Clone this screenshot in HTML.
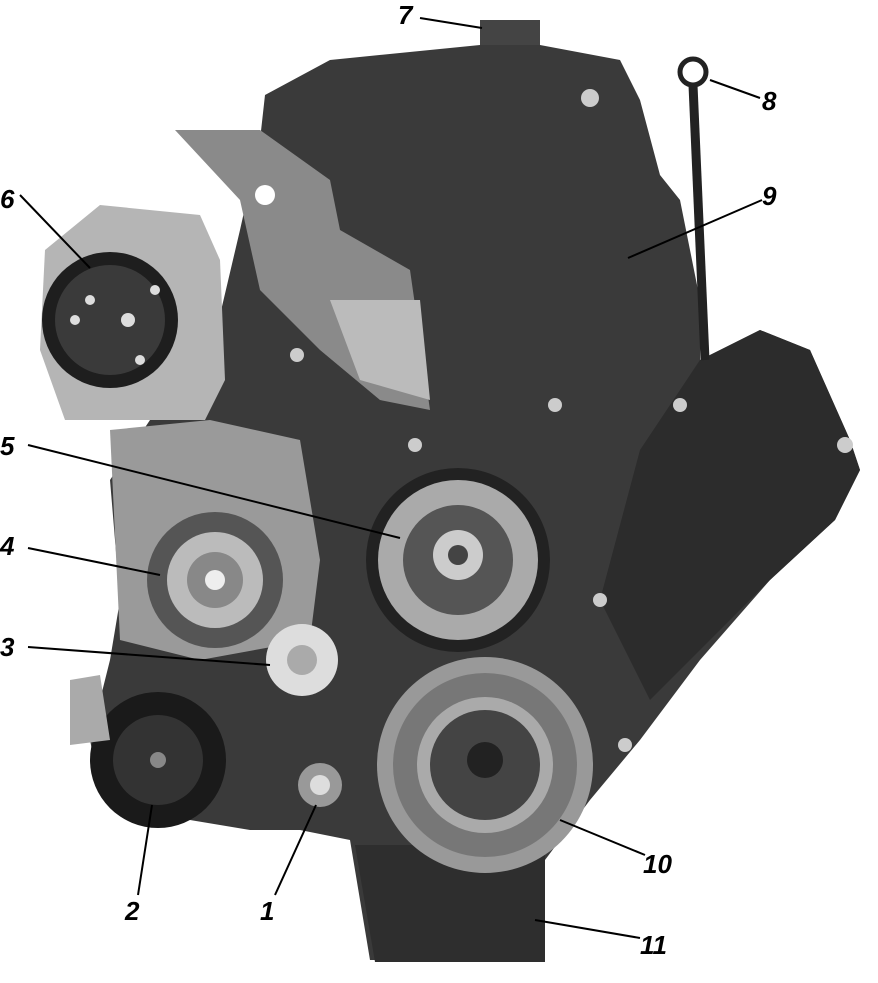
<!DOCTYPE html>
<html><head><meta charset="utf-8"><style>
html,body{margin:0;padding:0;background:#fff}
svg{display:block}
text{font-family:"Liberation Sans",sans-serif;font-weight:bold;font-style:italic;font-size:26px;fill:#000}
</style></head><body>
<svg width="878" height="983" viewBox="0 0 878 983" xmlns="http://www.w3.org/2000/svg">
<!-- main dark body -->
<path d="M265,95 L330,60 L480,45 L540,45 L620,60 L640,100 L660,175 L680,200 L700,300 L700,360 L760,330 L810,350 L850,440 L860,470 L835,520 L770,580 L700,660 L640,740 L590,800 L545,860 L545,960 L370,960 L350,840 L300,830 L250,830 L160,815 L100,790 L90,740 L110,660 L120,600 L110,480 L150,420 L200,400 L240,230 L260,140 Z" fill="#3a3a3a"/>
<path d="M480,45 L540,45 L540,20 L480,20 Z" fill="#444"/>
<path d="M700,360 L760,330 L810,350 L850,440 L860,470 L835,520 L770,580 L650,700 L600,600 L640,450 Z" fill="#2c2c2c"/>
<!-- lighter brackets -->
<path d="M175,130 L260,130 L330,180 L340,230 L410,270 L420,340 L430,410 L380,400 L320,350 L260,290 L240,200 Z" fill="#8a8a8a"/>
<circle cx="265" cy="195" r="10" fill="#fff"/>
<path d="M330,300 L420,300 L430,400 L360,380 Z" fill="#bbb"/>
<!-- compressor -->
<path d="M45,250 L100,205 L200,215 L220,260 L225,380 L205,420 L65,420 L40,350 Z" fill="#b5b5b5"/>
<circle cx="110" cy="320" r="68" fill="#1e1e1e"/>
<circle cx="110" cy="320" r="55" fill="#3a3a3a"/>
<circle cx="128" cy="320" r="7" fill="#ddd"/><circle cx="90" cy="300" r="5" fill="#ddd"/><circle cx="155" cy="290" r="5" fill="#ddd"/><circle cx="140" cy="360" r="5" fill="#ddd"/><circle cx="75" cy="320" r="5" fill="#ddd"/>
<!-- alternator body -->
<path d="M110,430 L210,420 L300,440 L320,560 L310,640 L200,660 L120,640 Z" fill="#9a9a9a"/>
<circle cx="215" cy="580" r="68" fill="#555"/>
<circle cx="215" cy="580" r="48" fill="#bbb"/>
<circle cx="215" cy="580" r="28" fill="#888"/>
<circle cx="215" cy="580" r="10" fill="#eee"/>
<!-- water pump pulley 5 -->
<circle cx="458" cy="560" r="92" fill="#222"/>
<circle cx="458" cy="560" r="80" fill="#aaa"/>
<circle cx="458" cy="560" r="55" fill="#555"/>
<circle cx="458" cy="555" r="25" fill="#ccc"/>
<circle cx="458" cy="555" r="10" fill="#444"/>
<!-- idler 3 -->
<circle cx="302" cy="660" r="36" fill="#ddd"/>
<circle cx="302" cy="660" r="15" fill="#aaa"/>
<!-- tensioner 2 -->
<circle cx="158" cy="760" r="68" fill="#1a1a1a"/>
<circle cx="158" cy="760" r="45" fill="#333"/>
<circle cx="158" cy="760" r="8" fill="#888"/>
<path d="M70,680 L100,675 L110,740 L70,745 Z" fill="#aaa"/>
<!-- idler 1 -->
<circle cx="320" cy="785" r="22" fill="#999"/>
<circle cx="320" cy="785" r="10" fill="#ddd"/>
<!-- oil pan -->
<path d="M355,845 L545,845 L545,962 L375,962 Z" fill="#2e2e2e"/>
<!-- crank pulley 10 -->
<circle cx="485" cy="765" r="108" fill="#999"/>
<circle cx="485" cy="765" r="92" fill="#777"/>
<circle cx="485" cy="765" r="68" fill="#aaa"/>
<circle cx="485" cy="765" r="55" fill="#444"/>
<circle cx="485" cy="760" r="18" fill="#222"/>
<!-- bolts -->
<g fill="#ccc"><circle cx="297" cy="355" r="7"/><circle cx="415" cy="445" r="7"/><circle cx="555" cy="405" r="7"/><circle cx="680" cy="405" r="7"/><circle cx="600" cy="600" r="7"/><circle cx="625" cy="745" r="7"/><circle cx="845" cy="445" r="8"/><circle cx="590" cy="98" r="9"/></g>
<!-- dipstick -->
<line x1="693" y1="85" x2="705" y2="360" stroke="#222" stroke-width="9"/>
<circle cx="693" cy="72" r="13" fill="none" stroke="#222" stroke-width="5"/>
<!-- leader lines -->
<g stroke="#000" stroke-width="2" fill="none">
<line x1="420" y1="18" x2="482" y2="28"/>
<line x1="710" y1="80" x2="760" y2="98"/>
<line x1="762" y1="200" x2="628" y2="258"/>
<line x1="20" y1="195" x2="90" y2="268"/>
<line x1="28" y1="445" x2="400" y2="538"/>
<line x1="28" y1="548" x2="160" y2="575"/>
<line x1="28" y1="647" x2="270" y2="665"/>
<line x1="138" y1="895" x2="152" y2="805"/>
<line x1="275" y1="895" x2="316" y2="805"/>
<line x1="645" y1="855" x2="560" y2="820"/>
<line x1="640" y1="938" x2="535" y2="920"/>
</g>
<text x="398" y="24">7</text>
<text x="762" y="110">8</text>
<text x="762" y="205">9</text>
<text x="0" y="208">6</text>
<text x="0" y="455">5</text>
<text x="0" y="555">4</text>
<text x="0" y="656">3</text>
<text x="125" y="920">2</text>
<text x="260" y="920">1</text>
<text x="643" y="873">10</text>
<text x="640" y="954">11</text>
</svg>
</body></html>
